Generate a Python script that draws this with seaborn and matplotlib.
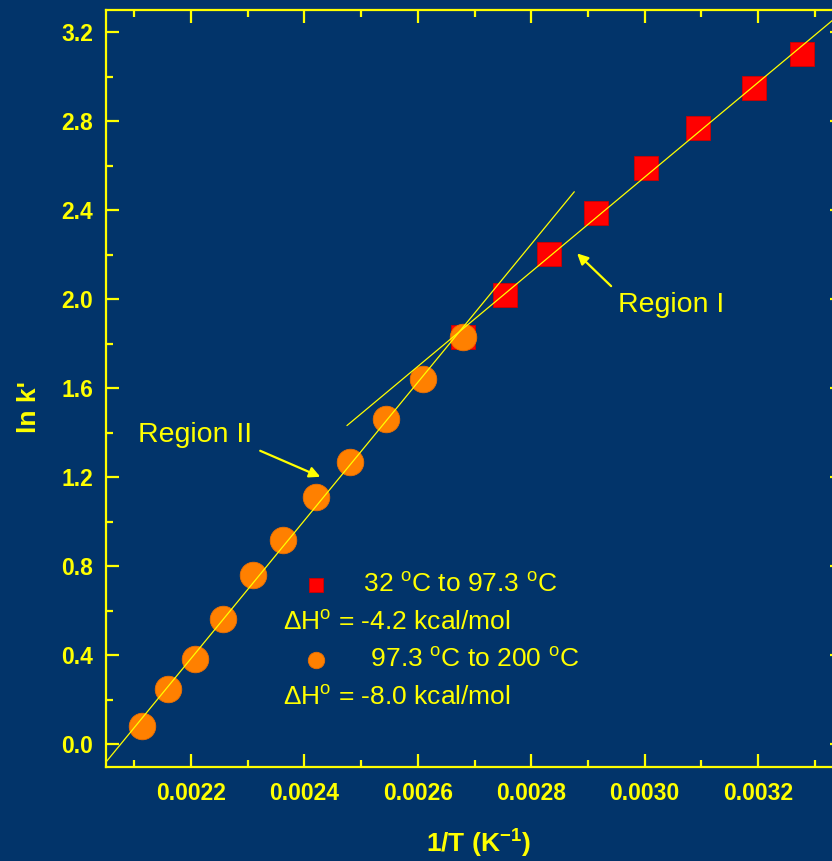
import numpy as np
import matplotlib
matplotlib.use("Agg")
import matplotlib.pyplot as plt
from matplotlib.lines import Line2D
import seaborn as sns

# 1/T (K^-1) and ln k'
inv_t_low = [0.002680, 0.002754, 0.002832, 0.002914, 0.003002, 0.003095, 0.003193, 0.003277]
lnk_low = [1.831, 2.018, 2.202, 2.389, 2.590, 2.770, 2.950, 3.101]
inv_t_high = [0.002113, 0.002159, 0.002207, 0.002257, 0.002309, 0.002363, 0.002420,
              0.002480, 0.002544, 0.002610, 0.002680]
lnk_high = [0.081, 0.250, 0.381, 0.561, 0.760, 0.920, 1.112, 1.269, 1.461, 1.640, 1.831]

# x extent of the two fitted lines
fit_low_range = [0.002475, 0.00335]
fit_high_range = [0.00205, 0.002876]

label_low = r"           32 $^{\mathrm{o}}$C to 97.3 $^{\mathrm{o}}$C"
label_high = r"            97.3 $^{\mathrm{o}}$C to 200 $^{\mathrm{o}}$C"
dh_low = r"$\Delta$H$^{\mathrm{o}}$ = -4.2 kcal/mol"
dh_high = r"$\Delta$H$^{\mathrm{o}}$ = -8.0 kcal/mol"

BG = "#02346a"
YEL = "#ffff00"

sns.set_style("ticks", {"axes.facecolor": BG, "figure.facecolor": BG,
                        "axes.edgecolor": YEL, "xtick.color": YEL, "ytick.color": YEL,
                        "text.color": YEL, "axes.labelcolor": YEL})
plt.rcParams["font.family"] = ["Liberation Sans", "DejaVu Sans"]
plt.rcParams["mathtext.fontset"] = "custom"
plt.rcParams["mathtext.rm"] = "Liberation Sans"
plt.rcParams["mathtext.it"] = "Liberation Sans:italic"
plt.rcParams["mathtext.bf"] = "Liberation Sans:bold"

fig = plt.figure(figsize=(8.32, 8.61), dpi=100)
ax = fig.add_axes([106 / 832, 94.5 / 861, 737 / 832, 756.5 / 861])

sns.scatterplot(x=inv_t_low, y=lnk_low, marker="s", s=290, color="#ff0000",
                edgecolor="#d00000", linewidth=0.6, label=label_low, ax=ax, zorder=3)
sns.scatterplot(x=inv_t_high, y=lnk_high, marker="o", s=365, color="#ff8000",
                edgecolor="#f07000", linewidth=0.6, label=label_high, ax=ax, zorder=4)

# linear fits of each region
for xs, ys, rng in [(inv_t_low, lnk_low, fit_low_range), (inv_t_high, lnk_high, fit_high_range)]:
    slope, icpt = np.polyfit(xs, ys, 1)
    xx = np.array(rng)
    ax.plot(xx, icpt + slope * xx, color=YEL, lw=0.9, zorder=5)

ax.set_xlim(0.00205, 0.00335)
ax.set_ylim(-0.1, 3.3)
ax.set_xticks([0.0022, 0.0024, 0.0026, 0.0028, 0.0030, 0.0032])
ax.set_xticklabels(["0.0022", "0.0024", "0.0026", "0.0028", "0.0030", "0.0032"])
ax.set_xticks(np.arange(0.0021, 0.00335, 0.0002), minor=True)
ax.set_yticks([0.0, 0.4, 0.8, 1.2, 1.6, 2.0, 2.4, 2.8, 3.2])
ax.set_yticklabels(["0.0", "0.4", "0.8", "1.2", "1.6", "2.0", "2.4", "2.8", "3.2"])
ax.set_yticks(np.arange(0.2, 3.3, 0.4), minor=True)

for s in ax.spines.values():
    s.set_visible(True)
    s.set_color(YEL)
    s.set_linewidth(1.6)
ax.tick_params(which="both", direction="in", top=True, right=True, color=YEL, width=1.6)
ax.tick_params(which="major", length=9.5)
ax.tick_params(which="minor", length=5)
ax.tick_params(axis="y", which="major", pad=9, labelsize=16.5)
ax.tick_params(axis="x", which="major", pad=11, labelsize=16.5)
for t in ax.get_xticklabels() + ax.get_yticklabels():
    t.set_fontweight("bold")

ax.set_xlabel(r"1/T (K$^{\mathbf{-1}}$)", fontsize=19, fontweight="bold")
ax.set_ylabel("ln k'", fontsize=19, fontweight="bold")
ax.xaxis.set_label_coords(0.505, -0.081)
ax.yaxis.set_label_coords(-0.088, 0.475)

# legend: marker rows plus text-only rows for the enthalpies
h, l = ax.get_legend_handles_labels()
blank = Line2D([], [], linestyle="none")
ax.legend([h[0], blank, h[1], blank], [l[0], dh_low, l[1], dh_high],
          loc="upper left", bbox_to_anchor=(0.267, 0.256), frameon=False,
          fontsize=19, labelcolor=YEL, handlelength=1.0, handletextpad=-1.75,
          borderpad=0, borderaxespad=0, labelspacing=0.52, markerscale=0.62)

# region annotations
arrow = dict(arrowstyle="-|>", color=YEL, lw=1.6, mutation_scale=16, shrinkA=0, shrinkB=0)
ax.annotate("", xy=(0.002881, 2.206), xytext=(0.002941, 2.059), arrowprops=arrow)
ax.text(0.002953, 1.942, "Region I", fontsize=20.5, color=YEL, va="baseline")
ax.annotate("", xy=(0.002428, 1.202), xytext=(0.002322, 1.319), arrowprops=arrow)
ax.text(0.002107, 1.359, "Region II", fontsize=20.5, color=YEL, va="baseline")

fig.savefig("out.png", dpi=100, facecolor=BG)
